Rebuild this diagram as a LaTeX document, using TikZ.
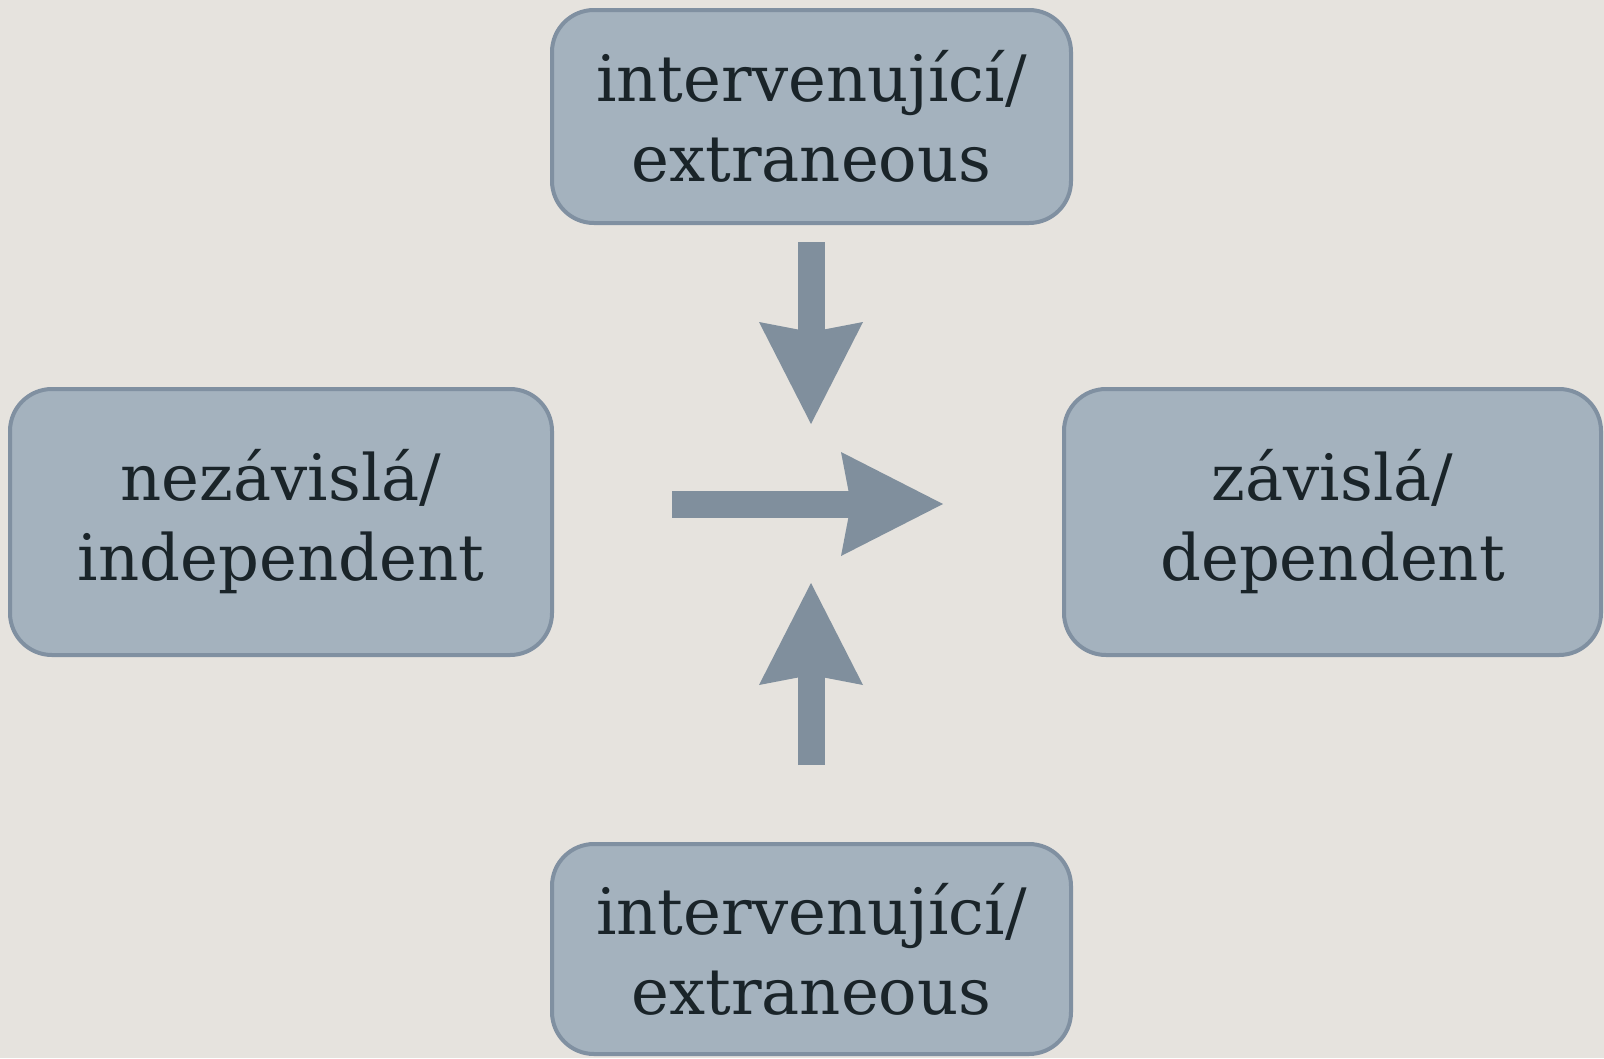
\documentclass[tikz,border=0pt]{standalone}
\usepackage{fontspec}
\setmainfont{DejaVu Serif}
\usetikzlibrary{arrows.meta}
\definecolor{bg}{HTML}{E6E3DE}
\definecolor{boxfill}{HTML}{A4B2BE}
\definecolor{boxline}{HTML}{8090A1}
\definecolor{arrowc}{HTML}{808F9D}
\definecolor{txt}{HTML}{1A2429}
\tikzset{
  varbox/.style={draw=boxline, line width=4pt, fill=boxfill, rounded corners=42pt,
    align=center, text=txt, inner sep=0pt,
    font=\fontsize{64}{80}\selectfont},
  bigarrow/.style={draw=arrowc, line width=27pt,
    -{Stealth[length=102pt,width=104pt,inset=10pt,line width=0pt,fill=arrowc]}}
}
\begin{document}
\begin{tikzpicture}[x=1pt,y=-1pt]
\useasboundingbox (0,0) rectangle (1604,1058);
\fill[bg] (0,0) rectangle (1604,1058);
\node[varbox, minimum width=519pt, minimum height=213pt] (top) at (811.5,116.5) {intervenující/\\extraneous};
\node[varbox, minimum width=542pt, minimum height=266pt] (left) at (281,522) {nezávislá/\\independent};
\node[varbox, minimum width=537pt, minimum height=266pt] (right) at (1332.5,522) {závislá/\\dependent};
\node[varbox, minimum width=519pt, minimum height=210pt] (bottom) at (811.5,949) {intervenující/\\extraneous};
\coordinate (dstart) at (811,242);
\coordinate (dtip) at (811,424);
\coordinate (rstart) at (672,504);
\coordinate (rtip) at (943,504);
\coordinate (ustart) at (811,765);
\coordinate (utip) at (811,583);
\draw[bigarrow] (dstart) -- (dtip);
\draw[bigarrow] (rstart) -- (rtip);
\draw[bigarrow] (ustart) -- (utip);
\end{tikzpicture}
\end{document}
